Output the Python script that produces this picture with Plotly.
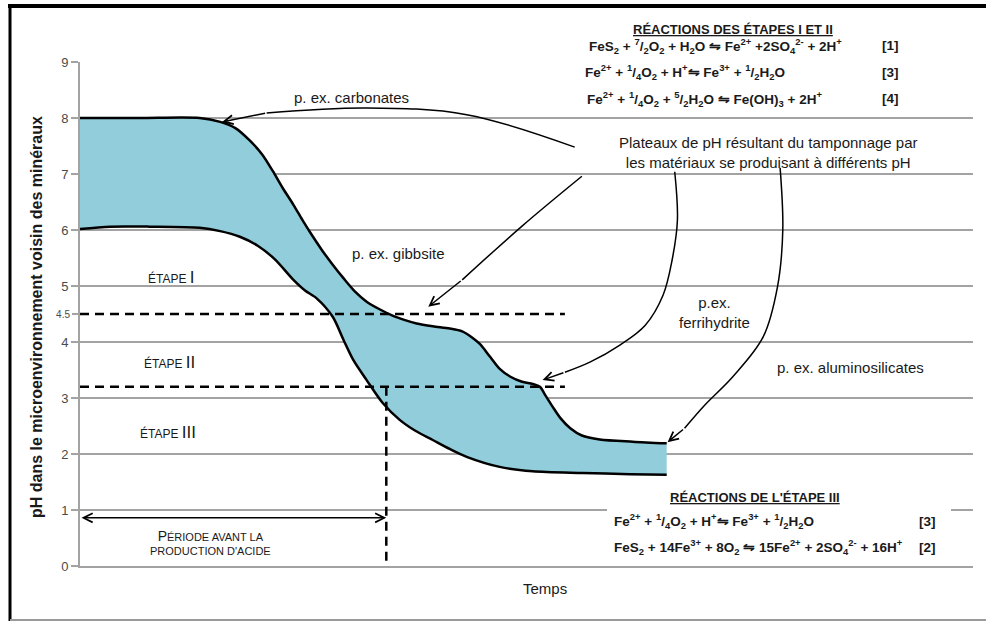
import plotly.graph_objects as go

# ---------------- data (time: arbitrary units 0-100, pH) ----------------
upper_t = [0, 6.7, 13.4, 15.7, 17.4, 19.0, 20.4, 21.6, 22.7, 23.9, 24.9, 25.8, 27.1, 28.3, 29.5,
           30.8, 32.1, 33.6, 35.0, 36.4, 37.7, 39.5, 41.4, 42.8, 43.9, 44.8, 45.9, 47.0, 48.2,
           49.5, 50.7, 51.5, 52.1, 52.9, 53.8, 54.9, 56.2, 58.2, 61.9, 65.7]
upper_ph = [8.00, 8.00, 8.00, 7.93, 7.82, 7.60, 7.35, 7.05, 6.75, 6.45, 6.18, 5.95, 5.64, 5.38, 5.14,
            4.90, 4.72, 4.58, 4.47, 4.39, 4.33, 4.28, 4.24, 4.19, 4.08, 3.96, 3.74, 3.52, 3.38,
            3.29, 3.25, 3.20, 3.05, 2.85, 2.64, 2.46, 2.33, 2.26, 2.22, 2.19]

lower_t = [0, 3.4, 7.8, 13.4, 15.7, 17.9, 19.9, 21.8, 23.9, 25.2, 26.5, 28.3, 29.5, 30.6, 32.1,
           33.9, 35.8, 37.6, 39.5, 41.4, 43.3, 47.0, 50.7, 56.3, 61.6, 65.7]
lower_ph = [6.02, 6.06, 6.06, 6.04, 5.98, 5.88, 5.72, 5.48, 5.11, 4.92, 4.78, 4.45, 4.04, 3.68, 3.32,
            2.91, 2.61, 2.41, 2.25, 2.09, 1.95, 1.77, 1.69, 1.66, 1.64, 1.63]

ytick_vals = [0, 1, 2, 3, 4, 5, 6, 7, 8, 9]
ytick_text = ["0", "1", "2", "3", "4", "5", "6", "7", "8", "9"]
extra_tick_vals = [4.5]
extra_tick_text = ["4.5"]

stage_limits_ph = [4.5, 3.2]      # horizontal dashed lines
dash_end_t = 54.3                 # end of dashed lines
acid_onset_t = 34.3               # start of acid production (vertical dashed)
period_arrow_ph = 0.86

# pointer curves (t, pH)
arrow_carbonates = ([55.4, 43.3, 32.1, 20.9, 15.9],
                    [7.48, 8.06, 8.18, 8.09, 7.93])
arrow_gibbsite = ([56.2, 49.5, 42.8, 39.0],
                  [6.96, 6.07, 5.11, 4.63])
arrow_ferri = ([66.6, 66.9, 66.3, 65.3, 63.3, 60.5, 57.1, 54.3, 51.8],
               [7.04, 6.18, 5.46, 4.84, 4.30, 3.95, 3.64, 3.46, 3.32])
arrow_alumino = ([78.4, 78.7, 78.1, 76.5, 73.1, 70.0, 67.7, 65.8],
                 [7.11, 6.00, 4.98, 4.09, 3.38, 2.88, 2.46, 2.21])

# ---------------- helpers for layout positions (pixel -> paper) ----------------
L, R, T, B = 80, 973, 62, 566
def px(x):
    return (x - L) / (R - L)
def py(y):
    return (B - y) / (B - T)

FILL = "#92CDDC"
GRID = "#a3a3a3"
TXT = "#1a1a1a"
LBL_FONT = "Liberation Sans"
EQ_FONT = "Liberation Sans"

fig = go.Figure()

fig.add_trace(go.Scatter(x=lower_t, y=lower_ph, mode="lines",
                         line=dict(color="black", width=2.5, shape="spline", smoothing=0.8),
                         hoverinfo="skip", showlegend=False))
fig.add_trace(go.Scatter(x=upper_t, y=upper_ph, mode="lines", fill="tonexty", fillcolor=FILL,
                         line=dict(color="black", width=2.5, shape="spline", smoothing=0.8),
                         hoverinfo="skip", showlegend=False))

# dashed stage lines
for v in stage_limits_ph:
    fig.add_trace(go.Scatter(x=[0, dash_end_t], y=[v, v], mode="lines",
                             line=dict(color="black", width=2.5, dash="9px,6px"),
                             hoverinfo="skip", showlegend=False))
fig.add_trace(go.Scatter(x=[acid_onset_t, acid_onset_t], y=[stage_limits_ph[1], 0], mode="lines",
                         line=dict(color="black", width=2.5, dash="9px,6px"),
                         hoverinfo="skip", showlegend=False))

# pointer curves
for ax_, ay_ in [arrow_carbonates, arrow_gibbsite, arrow_ferri, arrow_alumino]:
    fig.add_trace(go.Scatter(x=ax_[:-1], y=ay_[:-1], mode="lines",
                             line=dict(color="black", width=1.5, shape="spline", smoothing=1.0),
                             hoverinfo="skip", showlegend=False))
    fig.add_annotation(x=ax_[-1], y=ay_[-1], ax=ax_[-2], ay=ay_[-2], xref="x", yref="y",
                       axref="x", ayref="y", text="", showarrow=True, arrowhead=5,
                       arrowsize=1.2, arrowwidth=1.5, arrowcolor="black")

# extra 4.5 tick axis
fig.add_trace(go.Scatter(x=[None], y=[None], yaxis="y2", showlegend=False, hoverinfo="skip"))

# double arrow for pre-acid period
fig.add_annotation(x=acid_onset_t, y=period_arrow_ph, ax=0, ay=period_arrow_ph, xref="x", yref="y",
                   axref="x", ayref="y", text="", showarrow=True, arrowhead=5, startarrowhead=5,
                   arrowside="end+start", arrowsize=1.2, startarrowsize=1.2, arrowwidth=1.5,
                   arrowcolor="black")

def ann(text, x, y, size=15, family=LBL_FONT, xanchor="center", color=TXT, **kw):
    f = dict(family=family, size=size, color=color)
    fig.add_annotation(x=px(x), y=py(y), xref="paper", yref="paper", text=text, showarrow=False,
                       xanchor=xanchor, yanchor="middle", font=f, **kw)

ann("p. ex. carbonates", 351, 98)
ann("p. ex. gibbsite", 398, 253)
ann("Plateaux de pH résultant du tamponnage par<br>les matériaux se produisant à différents pH", 768, 152)
ann("p.ex.<br>ferrihydrite", 714, 312)
ann("p. ex. aluminosilicates", 850, 367)

BIG = "<span style='font-size:17px'>%s</span>"
ann("ÉTAPE " + BIG % "I", 171, 277, size=12)
ann("ÉTAPE " + BIG % "II", 169, 362, size=12)
ann("ÉTAPE " + BIG % "III", 168, 432, size=12)
SM = "<span style='font-size:14px'>%s</span>"
ann(SM % "P" + "ÉRIODE AVANT LA<br>PRODUCTION D'ACIDE", 210, 542, size=11)

ann("Temps", 545, 588, size=15)
ann("<b>pH dans le microenvironnement voisin des minéraux</b>", 36, 317, size=16, textangle=-90)

# reaction boxes
EQ = 13.5
ann("<b><u>RÉACTIONS DES ÉTAPES I ET II</u></b>", 733, 29, size=13, family=EQ_FONT)
ann("<b>FeS<sub>2</sub> + <sup>7</sup>/<sub>2</sub>O<sub>2</sub> + H<sub>2</sub>O ⇋ Fe<sup>2+</sup> +2SO<sub>4</sub><sup>2-</sup> + 2H<sup>+</sup></b>",
    587, 46, size=EQ, family=EQ_FONT, xanchor="left")
ann("<b>Fe<sup>2+</sup> + <sup>1</sup>/<sub>4</sub>O<sub>2</sub> + H<sup>+</sup>⇋ Fe<sup>3+</sup> + <sup>1</sup>/<sub>2</sub>H<sub>2</sub>O</b>",
    583, 72, size=EQ, family=EQ_FONT, xanchor="left")
ann("<b>Fe<sup>2+</sup> + <sup>1</sup>/<sub>4</sub>O<sub>2</sub> + <sup>5</sup>/<sub>2</sub>H<sub>2</sub>O ⇋ Fe(OH)<sub>3</sub> + 2H<sup>+</sup></b>",
    585, 99, size=EQ, family=EQ_FONT, xanchor="left")
ann("<b>[1]</b>", 880, 46, size=EQ, family=EQ_FONT, xanchor="left")
ann("<b>[3]</b>", 880, 72, size=EQ, family=EQ_FONT, xanchor="left")
ann("<b>[4]</b>", 880, 99, size=EQ, family=EQ_FONT, xanchor="left")

ann("<b><u>RÉACTIONS DE L'ÉTAPE III</u></b>", 755, 497, size=13, family=EQ_FONT)
ann("<b>Fe<sup>2+</sup> + <sup>1</sup>/<sub>4</sub>O<sub>2</sub> + H<sup>+</sup>⇋ Fe<sup>3+</sup> + <sup>1</sup>/<sub>2</sub>H<sub>2</sub>O</b>",
    612, 521, size=EQ, family=EQ_FONT, xanchor="left")
ann("<b>FeS<sub>2</sub> + 14Fe<sup>3+</sup> + 8O<sub>2</sub> ⇋ 15Fe<sup>2+</sup> + 2SO<sub>4</sub><sup>2-</sup> + 16H<sup>+</sup></b>",
    612, 547, size=EQ, family=EQ_FONT, xanchor="left")
ann("<b>[3]</b>", 917, 521, size=EQ, family=EQ_FONT, xanchor="left")
ann("<b>[2]</b>", 917, 547, size=EQ, family=EQ_FONT, xanchor="left")

shapes = [
    # white masks behind reaction boxes
    dict(type="rect", xref="paper", yref="paper", x0=px(585), x1=px(913), y0=py(108), y1=py(18),
         fillcolor="white", line=dict(width=0), layer="above"),
    dict(type="rect", xref="paper", yref="paper", x0=px(607), x1=px(951), y0=py(558), y1=py(486),
         fillcolor="white", line=dict(width=0), layer="above"),
    # outer frame
    dict(type="line", xref="paper", yref="paper", x0=px(8), x1=px(995), y0=py(6), y1=py(6),
         line=dict(color="black", width=4)),
    dict(type="line", xref="paper", yref="paper", x0=px(10), x1=px(10), y0=py(4), y1=py(621),
         line=dict(color="black", width=3)),
    dict(type="line", xref="paper", yref="paper", x0=px(10), x1=px(995), y0=py(620), y1=py(620),
         line=dict(color="#9a9a9a", width=2)),
]

fig.update_layout(
    width=986, height=623,
    margin=dict(l=L, r=986 - R, t=T, b=623 - B),
    paper_bgcolor="white", plot_bgcolor="white",
    showlegend=False,
    shapes=shapes,
    xaxis=dict(range=[0, 100], showgrid=False, zeroline=False, showticklabels=False,
               showline=True, linecolor=GRID, linewidth=2, ticks=""),
    yaxis=dict(range=[0, 9], tickvals=ytick_vals, ticktext=ytick_text, showgrid=True,
               gridcolor=GRID, gridwidth=2, zeroline=False, showline=True, linecolor=GRID,
               linewidth=2, ticks="outside", ticklen=7, tickcolor=GRID, tickwidth=2,
               tickfont=dict(family=LBL_FONT, size=13, color="#4a4a4a")),
    yaxis2=dict(range=[0, 9], overlaying="y", side="left", tickvals=extra_tick_vals,
                ticktext=extra_tick_text, showgrid=False, zeroline=False, showline=False,
                ticks="outside", ticklen=7, tickcolor=GRID, tickwidth=2,
                tickfont=dict(family=LBL_FONT, size=10, color="#4a4a4a")),
)

fig.write_html("out.html", config={"displayModeBar": False},
               post_script="document.body.style.margin='0';document.body.style.overflow='hidden';")
